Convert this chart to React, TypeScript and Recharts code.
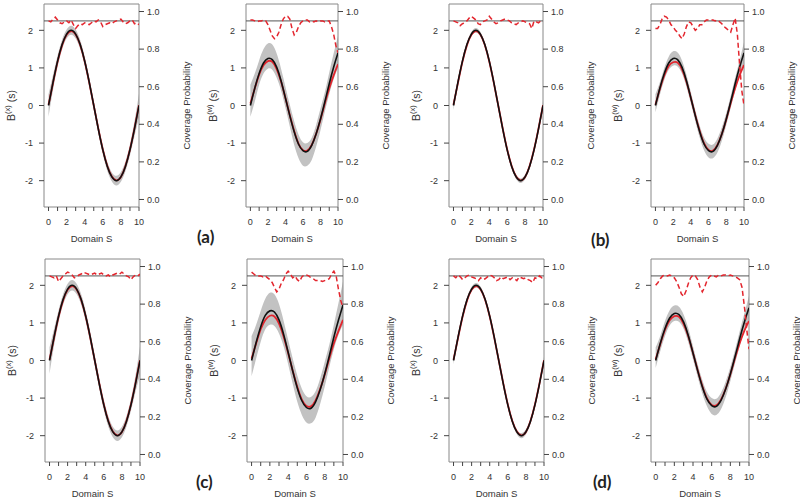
import React from 'react';
import { ComposedChart, Line, Area, XAxis, YAxis, ReferenceLine, ReferenceArea } from 'recharts';

// ---------- grids ----------
const S_CURVE = [0, 0.5, 1, 1.5, 2, 2.5, 3, 3.5, 4, 4.5, 5, 5.5, 6, 6.5, 7, 7.5, 8, 8.5, 9, 9.5, 10];
const S_COV = [0, 0.25, 0.5, 0.75, 1, 1.25, 1.5, 1.75, 2, 2.25, 2.5, 2.75, 3, 3.25, 3.5, 3.75, 4, 4.25, 4.5, 4.75,
  5, 5.25, 5.5, 5.75, 6, 6.25, 6.5, 6.75, 7, 7.25, 7.5, 7.75, 8, 8.25, 8.5, 8.75, 9, 9.25, 9.5, 9.75, 10];
const X_TICKS = [0, 1, 2, 3, 4, 5, 6, 7, 8, 9, 10];
const LEFT_TICKS = [-2, -1, 0, 1, 2];
const RIGHT_TICKS = [0, 0.2, 0.4, 0.6, 0.8, 1.0];
const NOMINAL = 0.95;

// ---------- B^(x) curves ----------
const TRUE_X = [0, 0.62, 1.18, 1.62, 1.9, 2.0, 1.9, 1.62, 1.18, 0.62, 0, -0.62, -1.18, -1.62, -1.9, -2.0, -1.9, -1.62, -1.18, -0.62, 0];
const EST_X = [0.02, 0.6, 1.16, 1.6, 1.88, 1.98, 1.89, 1.61, 1.17, 0.61, 0, -0.61, -1.17, -1.61, -1.89, -1.99, -1.9, -1.61, -1.17, -0.61, 0.01];

const LO_A_X = [-0.3, 0.42, 1.03, 1.49, 1.78, 1.88, 1.78, 1.5, 1.06, 0.5, -0.12, -0.74, -1.3, -1.74, -2.02, -2.13, -2.03, -1.75, -1.33, -0.82, -0.32];
const HI_A_X = [0.3, 0.82, 1.33, 1.75, 2.02, 2.12, 2.02, 1.74, 1.3, 0.74, 0.12, -0.5, -1.06, -1.5, -1.78, -1.87, -1.77, -1.49, -1.03, -0.42, 0.32];
const LO_B_X = [-0.12, 0.54, 1.11, 1.56, 1.84, 1.94, 1.84, 1.56, 1.12, 0.56, -0.06, -0.68, -1.24, -1.68, -1.96, -2.06, -1.96, -1.68, -1.25, -0.7, -0.12];
const HI_B_X = [0.12, 0.7, 1.25, 1.68, 1.96, 2.06, 1.96, 1.68, 1.24, 0.68, 0.06, -0.56, -1.12, -1.56, -1.84, -1.94, -1.84, -1.56, -1.11, -0.54, 0.12];
const LO_C_X = [-0.35, 0.4, 1.02, 1.48, 1.76, 1.86, 1.76, 1.48, 1.04, 0.48, -0.14, -0.76, -1.32, -1.76, -2.04, -2.14, -2.04, -1.76, -1.34, -0.84, -0.38];
const HI_C_X = [0.35, 0.84, 1.34, 1.76, 2.04, 2.14, 2.04, 1.76, 1.32, 0.76, 0.14, -0.48, -1.04, -1.48, -1.76, -1.86, -1.76, -1.48, -1.02, -0.4, 0.38];
const LO_D_X = [-0.1, 0.55, 1.11, 1.55, 1.84, 1.94, 1.84, 1.56, 1.12, 0.56, -0.06, -0.68, -1.24, -1.68, -1.96, -2.07, -1.97, -1.69, -1.25, -0.69, -0.1];
const HI_D_X = [0.1, 0.69, 1.25, 1.69, 1.96, 2.06, 1.96, 1.68, 1.24, 0.68, 0.06, -0.56, -1.12, -1.56, -1.84, -1.93, -1.83, -1.55, -1.11, -0.55, 0.1];

// ---------- B^(w) curves ----------
const TRUE_W = [0, 0.46, 0.85, 1.13, 1.25, 1.22, 1.02, 0.66, 0.2, -0.27, -0.7, -1.03, -1.2, -1.22, -1.06, -0.76, -0.36, 0.1, 0.58, 1.02, 1.4];
const TRUE_W_C = [0, 0.48, 0.9, 1.2, 1.32, 1.29, 1.08, 0.7, 0.22, -0.28, -0.73, -1.07, -1.25, -1.27, -1.1, -0.78, -0.36, 0.12, 0.62, 1.07, 1.48];
const EST_A_W = [0.05, 0.45, 0.82, 1.07, 1.18, 1.16, 0.97, 0.64, 0.2, -0.26, -0.68, -1.02, -1.19, -1.2, -1.05, -0.76, -0.38, 0.05, 0.45, 0.8, 1.1];
const EST_B_W = [0.02, 0.44, 0.8, 1.05, 1.15, 1.14, 0.96, 0.63, 0.2, -0.26, -0.68, -1.01, -1.18, -1.2, -1.05, -0.76, -0.37, 0.06, 0.46, 0.8, 1.08];
const EST_C_W = [0.05, 0.45, 0.83, 1.08, 1.19, 1.17, 0.98, 0.64, 0.2, -0.27, -0.7, -1.04, -1.21, -1.22, -1.06, -0.76, -0.38, 0.05, 0.45, 0.78, 1.08];
const EST_D_W = [0.03, 0.44, 0.81, 1.07, 1.18, 1.16, 0.97, 0.64, 0.2, -0.26, -0.68, -1.01, -1.18, -1.19, -1.04, -0.75, -0.37, 0.06, 0.46, 0.79, 1.05];

const LO_A_W = [-0.3, 0.1, 0.55, 0.85, 0.98, 0.95, 0.74, 0.4, -0.06, -0.56, -1.05, -1.4, -1.6, -1.6, -1.45, -1.1, -0.66, -0.16, 0.3, 0.7, 1.0];
const HI_A_W = [0.55, 0.85, 1.2, 1.5, 1.65, 1.62, 1.38, 0.98, 0.5, 0.02, -0.42, -0.78, -0.98, -1.0, -0.86, -0.52, -0.08, 0.36, 0.88, 1.38, 1.85];
const LO_B_W = [-0.18, 0.28, 0.68, 0.95, 1.06, 1.04, 0.85, 0.5, 0.05, -0.42, -0.86, -1.2, -1.38, -1.4, -1.25, -0.94, -0.52, -0.06, 0.4, 0.82, 1.12];
const HI_B_W = [0.3, 0.62, 1.0, 1.3, 1.44, 1.41, 1.2, 0.82, 0.36, -0.12, -0.54, -0.86, -1.02, -1.04, -0.88, -0.58, -0.2, 0.26, 0.74, 1.2, 1.68];
const LO_C_W = [-0.42, 0.05, 0.5, 0.83, 0.95, 0.92, 0.72, 0.38, -0.1, -0.62, -1.1, -1.45, -1.65, -1.67, -1.52, -1.16, -0.7, -0.18, 0.3, 0.68, 0.95];
const HI_C_W = [0.65, 0.95, 1.32, 1.64, 1.8, 1.76, 1.5, 1.06, 0.55, 0.05, -0.4, -0.75, -0.95, -0.97, -0.82, -0.48, -0.04, 0.42, 0.95, 1.52, 2.1];
const LO_D_W = [-0.2, 0.25, 0.65, 0.93, 1.05, 1.03, 0.84, 0.48, 0.03, -0.44, -0.88, -1.22, -1.42, -1.45, -1.3, -0.98, -0.55, -0.08, 0.38, 0.8, 1.1];
const HI_D_W = [0.35, 0.66, 1.05, 1.34, 1.46, 1.43, 1.22, 0.86, 0.38, -0.1, -0.52, -0.84, -1.0, -1.02, -0.86, -0.56, -0.17, 0.28, 0.78, 1.25, 1.72];

// ---------- coverage probabilities ----------
const COV_A_X = [0.95, 0.945, 0.96, 0.97, 0.955, 0.94, 0.935, 0.945, 0.95, 0.94,
  0.955, 0.93, 0.91, 0.925, 0.935, 0.93, 0.94, 0.935, 0.93, 0.94,
  0.95, 0.945, 0.955, 0.945, 0.92, 0.93, 0.935, 0.94, 0.935, 0.945,
  0.95, 0.955, 0.96, 0.945, 0.935, 0.94, 0.95, 0.955, 0.935, 0.94, 0.93];
const COV_A_W = [0.955, 0.955, 0.95, 0.945, 0.95, 0.95, 0.955, 0.95, 0.93, 0.9,
  0.87, 0.855, 0.865, 0.89, 0.93, 0.96, 0.975, 0.975, 0.96, 0.91,
  0.875, 0.89, 0.92, 0.94, 0.95, 0.955, 0.955, 0.945, 0.95, 0.945,
  0.95, 0.945, 0.95, 0.95, 0.945, 0.95, 0.95, 0.92, 0.88, 0.82, 0.78];
const COV_B_X = [0.95, 0.945, 0.94, 0.925, 0.935, 0.94, 0.95, 0.965, 0.975, 0.965,
  0.955, 0.935, 0.93, 0.945, 0.95, 0.955, 0.975, 0.96, 0.945, 0.935,
  0.94, 0.95, 0.955, 0.96, 0.955, 0.95, 0.94, 0.935, 0.93, 0.94,
  0.945, 0.95, 0.945, 0.94, 0.935, 0.91, 0.95, 0.945, 0.94, 0.95, 0.955];
const COV_B_W = [0.91, 0.91, 0.93, 0.96, 0.975, 0.97, 0.955, 0.93, 0.92, 0.9,
  0.89, 0.87, 0.855, 0.88, 0.92, 0.945, 0.94, 0.92, 0.9, 0.91,
  0.93, 0.93, 0.945, 0.955, 0.955, 0.955, 0.955, 0.95, 0.955, 0.945,
  0.935, 0.92, 0.91, 0.9, 0.89, 0.93, 0.965, 0.88, 0.72, 0.58, 0.5];
const COV_C_X = [0.95, 0.945, 0.94, 0.95, 0.92, 0.935, 0.95, 0.96, 0.97, 0.965,
  0.955, 0.94, 0.945, 0.955, 0.96, 0.97, 0.965, 0.96, 0.955, 0.96,
  0.965, 0.955, 0.96, 0.965, 0.955, 0.95, 0.955, 0.945, 0.955, 0.96,
  0.965, 0.96, 0.97, 0.96, 0.95, 0.945, 0.93, 0.945, 0.955, 0.95, 0.96];
const COV_C_W = [0.97, 0.96, 0.95, 0.95, 0.95, 0.945, 0.95, 0.94, 0.93, 0.915,
  0.89, 0.865, 0.88, 0.91, 0.93, 0.96, 0.975, 0.96, 0.94, 0.95,
  0.93, 0.92, 0.945, 0.955, 0.955, 0.95, 0.94, 0.935, 0.925, 0.925,
  0.925, 0.92, 0.925, 0.93, 0.935, 0.96, 0.975, 0.95, 0.88, 0.82, 0.78];
const COV_D_X = [0.95, 0.94, 0.955, 0.945, 0.93, 0.94, 0.95, 0.955, 0.945, 0.94,
  0.935, 0.925, 0.94, 0.93, 0.935, 0.945, 0.955, 0.95, 0.94, 0.925,
  0.93, 0.945, 0.935, 0.94, 0.945, 0.93, 0.94, 0.935, 0.925, 0.945,
  0.94, 0.935, 0.94, 0.93, 0.925, 0.915, 0.94, 0.935, 0.95, 0.94, 0.95];
const COV_D_W = [0.9, 0.915, 0.935, 0.95, 0.955, 0.95, 0.955, 0.95, 0.94, 0.92,
  0.89, 0.855, 0.84, 0.87, 0.91, 0.94, 0.955, 0.95, 0.93, 0.89,
  0.865, 0.89, 0.925, 0.945, 0.955, 0.95, 0.945, 0.955, 0.95, 0.955,
  0.955, 0.95, 0.955, 0.95, 0.945, 0.94, 0.93, 0.89, 0.79, 0.67, 0.56];

// ---------- text ----------
const X_TITLE = 'Domain S';
const RIGHT_TITLE = 'Coverage Probability';
const PANEL_LETTERS = ['(a)', '(b)', '(c)', '(d)'];

// ---------- panel table (data) ----------
const PANELS = [
  { sup: '(x)', truth: TRUE_X, est: EST_X, lo: LO_A_X, hi: HI_A_X, cov: COV_A_X },
  { sup: '(w)', truth: TRUE_W, est: EST_A_W, lo: LO_A_W, hi: HI_A_W, cov: COV_A_W },
  { sup: '(x)', truth: TRUE_X, est: EST_X, lo: LO_B_X, hi: HI_B_X, cov: COV_B_X },
  { sup: '(w)', truth: TRUE_W, est: EST_B_W, lo: LO_B_W, hi: HI_B_W, cov: COV_B_W },
  { sup: '(x)', truth: TRUE_X, est: EST_X, lo: LO_C_X, hi: HI_C_X, cov: COV_C_X },
  { sup: '(w)', truth: TRUE_W_C, est: EST_C_W, lo: LO_C_W, hi: HI_C_W, cov: COV_C_W },
  { sup: '(x)', truth: TRUE_X, est: EST_X, lo: LO_D_X, hi: HI_D_X, cov: COV_D_X },
  { sup: '(w)', truth: TRUE_W, est: EST_D_W, lo: LO_D_W, hi: HI_D_W, cov: COV_D_W },
];

// ---------- layout (positions / styles) ----------
const LAYOUT = [
  { x: 44, y: 4, w: 95 },
  { x: 246, y: 4, w: 92 },
  { x: 449, y: 4, w: 94 },
  { x: 651, y: 4, w: 93 },
  { x: 45, y: 259, w: 95 },
  { x: 247, y: 259, w: 96 },
  { x: 449, y: 259, w: 95 },
  { x: 651, y: 259, w: 98 },
];
const LETTER_POS = [
  { x: 197, y: 243 },
  { x: 591, y: 246 },
  { x: 196, y: 488 },
  { x: 593, y: 488 },
];

const LEFT_W = 45;
const RIGHT_W = 55;
const TOP_M = 4;
const PLOT_H = 203;
const CHART_H = 250;
const FONT = "'Liberation Sans', Arial, sans-serif";
const TEXT = '#333';
const RED = '#e3262e';
const BAND = '#c2c2c2';

function Panel({ p, l }: any) {
  const curveData = S_CURVE.map((s, i) => ({ s, truth: p.truth[i], est: p.est[i], band: [p.lo[i], p.hi[i]] }));
  const covData = S_COV.map((s, i) => ({ s, cov: p.cov[i] }));
  const W = LEFT_W + l.w + RIGHT_W;
  const tick = { fontSize: 9, fill: TEXT, fontFamily: FONT };
  const cy = TOP_M + PLOT_H / 2;
  const lx = LEFT_W - 33;
  const rx = LEFT_W + l.w + 47;
  return (
    <div style={{ position: 'absolute', left: l.x - LEFT_W, top: l.y - TOP_M, width: W, height: CHART_H }}>
      <ComposedChart width={W} height={CHART_H} data={curveData} margin={{ top: TOP_M, right: 0, bottom: 0, left: 0 }}>
        <XAxis
          dataKey="s"
          type="number"
          domain={[-0.5, 10]}
          allowDataOverflow
          ticks={X_TICKS}
          interval={0}
          tickFormatter={(v: number) => (v % 2 === 0 ? String(v) : '')}
          height={CHART_H - TOP_M - PLOT_H}
          axisLine={false}
          tickSize={4}
          tickMargin={8}
          tickLine={{ stroke: '#444' }}
          tick={tick}
        />
        <YAxis
          yAxisId="left"
          type="number"
          domain={[-2.7, 2.7]}
          allowDataOverflow
          ticks={LEFT_TICKS}
          interval={0}
          width={LEFT_W}
          axisLine={false}
          tickSize={5}
          tickMargin={6}
          tickLine={{ stroke: '#444' }}
          tick={tick}
        />
        <YAxis
          yAxisId="right"
          orientation="right"
          type="number"
          domain={[-0.04, 1.04]}
          allowDataOverflow
          ticks={RIGHT_TICKS}
          interval={0}
          tickFormatter={(v: number) => v.toFixed(1)}
          width={RIGHT_W}
          axisLine={false}
          tickSize={5}
          tickMargin={3}
          tickLine={{ stroke: '#444' }}
          tick={tick}
        />
        <Area yAxisId="left" dataKey="band" type="natural" fill={BAND} fillOpacity={1} stroke="none" isAnimationActive={false} dot={false} activeDot={false} />
        <Line yAxisId="left" dataKey="est" type="natural" stroke={RED} strokeWidth={1.8} dot={false} activeDot={false} isAnimationActive={false} />
        <Line yAxisId="left" dataKey="truth" type="natural" stroke="#111" strokeWidth={1.6} dot={false} activeDot={false} isAnimationActive={false} />
        <ReferenceLine yAxisId="right" y={NOMINAL} stroke="#555" strokeWidth={1} />
        <Line yAxisId="right" data={covData} dataKey="cov" type="linear" stroke={RED} strokeWidth={1.5} strokeDasharray="5 3" dot={false} activeDot={false} isAnimationActive={false} />
        <ReferenceArea yAxisId="left" x1={-0.5} x2={10} y1={-2.7} y2={2.7} fill="none" fillOpacity={0} stroke="#888" strokeWidth={1} />
      </ComposedChart>
      <svg width={W} height={CHART_H} style={{ position: 'absolute', left: 0, top: 0, pointerEvents: 'none' }}>
        <text x={lx} y={cy} transform={`rotate(-90, ${lx}, ${cy})`} textAnchor="middle" dominantBaseline="central" fontSize={10.5} fill={TEXT} fontFamily={FONT}>
          B<tspan fontSize={7.5} dy={-4}>{p.sup}</tspan><tspan fontSize={10.5} dy={4}>{' (s)'}</tspan>
        </text>
        <text x={rx} y={cy} transform={`rotate(-90, ${rx}, ${cy})`} textAnchor="middle" dominantBaseline="central" fontSize={9.5} fill={TEXT} fontFamily={FONT}>
          {RIGHT_TITLE}
        </text>
        <text x={LEFT_W + l.w / 2} y={TOP_M + PLOT_H + 31} textAnchor="middle" dominantBaseline="central" fontSize={9.5} fill={TEXT} fontFamily={FONT}>
          {X_TITLE}
        </text>
      </svg>
    </div>
  );
}

export default function App() {
  return (
    <div style={{ position: 'absolute', left: 0, top: 0, width: 800, height: 503, overflow: 'hidden', background: '#fff' }}>
      {PANELS.map((p, i) => (
        <Panel key={i} p={p} l={LAYOUT[i]} />
      ))}
      <svg width={800} height={503} style={{ position: 'absolute', left: 0, top: 0, pointerEvents: 'none' }}>
        {PANEL_LETTERS.map((t, i) => (
          <text key={t} x={LETTER_POS[i].x} y={LETTER_POS[i].y} fontSize={17} fontWeight="bold" fill="#222" fontFamily="Lato, 'Liberation Sans', sans-serif">
            {t}
          </text>
        ))}
      </svg>
    </div>
  );
}
